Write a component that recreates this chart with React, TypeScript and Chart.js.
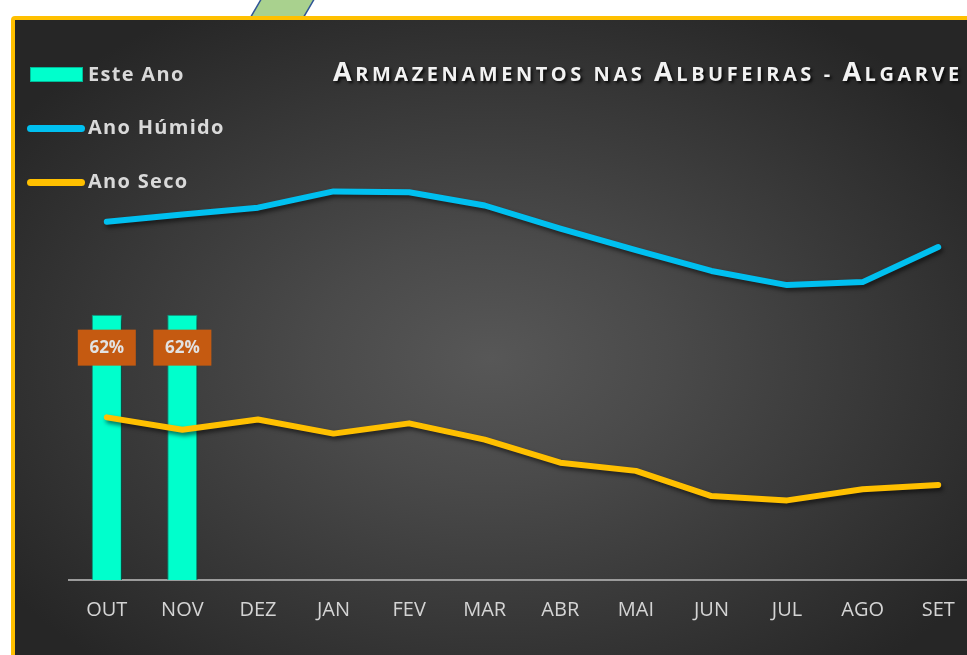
import React, { useEffect, useRef } from "react";
import { Chart, registerables } from "chart.js";

Chart.register(...registerables);

// ---- Data ----
const categories = ["OUT", "NOV", "DEZ", "JAN", "FEV", "MAR", "ABR", "MAI", "JUN", "JUL", "AGO", "SET"];
const esteAno: (number | null)[] = [62, 62, null, null, null, null, null, null, null, null, null, null];
const anoHumido = [83.7, 85.4, 87.0, 90.8, 90.6, 87.5, 82.1, 77.1, 72.2, 68.9, 69.6, 77.8];
const anoSeco = [38.0, 35.1, 37.5, 34.2, 36.6, 32.8, 27.4, 25.5, 19.6, 18.6, 21.2, 22.2];
const yMin = 0;
const yMax = 100;
const titleText = "Armazenamentos nas Albufeiras - Algarve";
const legendItems = ["Este Ano", "Ano Húmido", "Ano Seco"];

const TEAL = "#00FFCC";
const BLUE = "#00C0F0";
const YELLOW = "#FFC000";
const LABEL_BG = "#C55A11";
const FONT = "'Open Sans', 'Noto Sans', sans-serif";

const shadowPlugin = {
  id: "shadowPlugin",
  beforeDatasetDraw(chart: any) {
    const ctx = chart.ctx;
    ctx.save();
    ctx.shadowColor = "rgba(0,0,0,0.55)";
    ctx.shadowBlur = 4;
    ctx.shadowOffsetX = 2;
    ctx.shadowOffsetY = 3;
  },
  afterDatasetDraw(chart: any) {
    chart.ctx.restore();
  },
};

const barLabelPlugin = {
  id: "barLabelPlugin",
  afterDatasetsDraw(chart: any) {
    const ctx = chart.ctx;
    chart.data.datasets.forEach((ds: any, i: number) => {
      if (ds.type !== "bar") return;
      const meta = chart.getDatasetMeta(i);
      meta.data.forEach((el: any, j: number) => {
        const v = ds.data[j];
        if (v == null) return;
        const w = 58;
        const h = 36;
        const cx = el.x;
        const cy = el.y + 33;
        ctx.save();
        ctx.fillStyle = LABEL_BG;
        ctx.fillRect(cx - w / 2, cy - h / 2, w, h);
        ctx.fillStyle = "#E2E2E2";
        ctx.font = `bold 17px ${FONT}`;
        ctx.textAlign = "center";
        ctx.textBaseline = "middle";
        ctx.fillText(`${Math.round(v)}%`, cx, cy + 1);
        ctx.restore();
      });
    });
  },
};

function ChartCanvas() {
  const ref = useRef<HTMLCanvasElement | null>(null);
  useEffect(() => {
    if (!ref.current) return;
    const chart = new Chart(ref.current, {
      type: "bar",
      data: {
        labels: categories,
        datasets: [
          {
            type: "line",
            label: legendItems[1],
            data: anoHumido,
            borderColor: BLUE,
            borderWidth: 6,
            pointRadius: 0,
            tension: 0,
            borderCapStyle: "round",
            borderJoinStyle: "round",
            order: 1,
          } as any,
          {
            type: "line",
            label: legendItems[2],
            data: anoSeco,
            borderColor: YELLOW,
            borderWidth: 6,
            pointRadius: 0,
            tension: 0,
            borderCapStyle: "round",
            borderJoinStyle: "round",
            order: 1,
          } as any,
          {
            type: "bar",
            label: legendItems[0],
            data: esteAno,
            backgroundColor: TEAL,
            borderColor: "rgba(0,170,140,0.8)",
            borderWidth: 1,
            barPercentage: 0.4,
            categoryPercentage: 1,
            order: 2,
          } as any,
        ],
      },
      options: {
        animation: false,
        responsive: false,
        devicePixelRatio: 1,
        layout: { padding: { left: 69, right: 24, top: 152, bottom: 15 } },
        plugins: {
          legend: { display: false },
          title: { display: false },
          tooltip: { enabled: false },
        },
        scales: {
          x: {
            offset: true,
            grid: { display: false, drawTicks: false },
            border: { display: true, color: "#9C9C9C", width: 2 },
            ticks: {
              color: "#D4D4D4",
              font: { family: FONT, size: 20 },
              padding: 18,
              maxRotation: 0,
              autoSkip: false,
            },
          },
          y: {
            display: false,
            min: yMin,
            max: yMax,
          },
        },
      },
      plugins: [shadowPlugin, barLabelPlugin],
    } as any);
    return () => chart.destroy();
  }, []);
  return (
    <canvas
      ref={ref}
      width={1000}
      height={655}
      style={{ position: "absolute", left: 0, top: 0, width: 1000, height: 655 }}
    />
  );
}

function SmallCaps({ text }: { text: string }) {
  // Manual small caps: capitals large, lowercase letters as smaller capitals
  const parts: { t: string; big: boolean }[] = [];
  for (const ch of text) {
    const big = ch === ch.toUpperCase() && ch !== ch.toLowerCase();
    const last = parts[parts.length - 1];
    if (last && last.big === big) last.t += ch;
    else parts.push({ t: ch, big });
  }
  return (
    <>
      {parts.map((p, i) => (
        <span key={i} style={{ fontSize: p.big ? 27 : 20 }}>
          {p.t.toUpperCase()}
        </span>
      ))}
    </>
  );
}

export default function App() {
  const legendText: React.CSSProperties = {
    position: "absolute",
    left: 88,
    fontFamily: FONT,
    fontWeight: 700,
    fontSize: 20,
    lineHeight: "20px",
    color: "#D9D9D9",
    letterSpacing: 1.3,
    whiteSpace: "nowrap",
  };
  const legendLine = (color: string, y: number): React.CSSProperties => ({
    position: "absolute",
    left: 27,
    top: y - 3.5,
    width: 58,
    height: 7,
    borderRadius: 4,
    background: color,
  });
  return (
    <div
      style={{
        position: "fixed",
        left: 0,
        top: 0,
        width: 967,
        height: 655,
        overflow: "hidden",
        background: "#FFFFFF",
      }}
    >
      <svg width={967} height={30} style={{ position: "absolute", left: 0, top: 0 }}>
        <polygon points="249,20 302,20 316,-4 263,-4" fill="#A9D18E" stroke="#2F5597" strokeWidth={1.5} />
      </svg>
      <div
        style={{
          position: "absolute",
          left: 11,
          top: 16,
          width: 960,
          height: 660,
          boxSizing: "border-box",
          border: "4px solid #FFC000",
          borderRadius: 4,
          background:
            "radial-gradient(ellipse 62% 62% at 50% 52%, #575757 0%, #4a4a4a 30%, #383838 65%, #262626 100%)",
        }}
      />
      <ChartCanvas />
      <div
        style={{
          position: "absolute",
          left: 30,
          top: 67,
          width: 53,
          height: 15,
          background: TEAL,
          boxShadow: "inset 0 0 0 1px rgba(0,170,140,0.8)",
        }}
      />
      <div style={{ ...legendText, top: 64 }}>{legendItems[0]}</div>
      <div style={legendLine(BLUE, 128)} />
      <div style={{ ...legendText, top: 117 }}>{legendItems[1]}</div>
      <div style={legendLine(YELLOW, 182)} />
      <div style={{ ...legendText, top: 171 }}>{legendItems[2]}</div>
      <div
        style={{
          position: "absolute",
          left: 333,
          top: 57,
          fontFamily: FONT,
          fontWeight: 700,
          fontSize: 27,
          lineHeight: "27px",
          letterSpacing: 3.55,
          color: "#F2F2F2",
          whiteSpace: "nowrap",
          textShadow: "2px 2px 3px rgba(0,0,0,0.85)",
        }}
      >
        <SmallCaps text={titleText} />
      </div>
    </div>
  );
}
